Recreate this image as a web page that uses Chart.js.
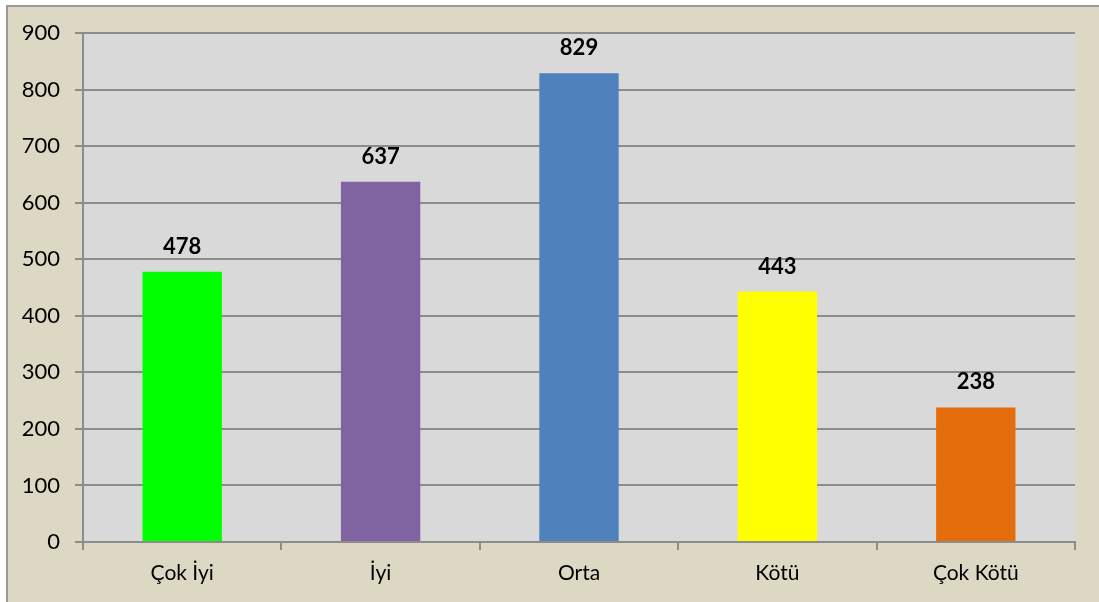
<!DOCTYPE html>
<html>
<head>
<meta charset="utf-8">
<script src="https://cdn.jsdelivr.net/npm/chart.js@4"></script>
<style>
  html, body { margin: 0; padding: 0; background: #fff; }
  #wrap { width: 1099px; height: 602px; }
</style>
</head>
<body>
<div id="wrap"><canvas id="barChart" width="1099" height="602"></canvas></div>
<script>
// data
var categories = ["Çok İyi", "İyi", "Orta", "Kötü", "Çok Kötü"];
var counts = [478, 637, 829, 443, 238];
var barColors = ["#00ff00", "#8064a2", "#4f81bd", "#ffff00", "#e46c0a"];
var yTicks = [0, 100, 200, 300, 400, 500, 600, 700, 800, 900];

var fontFamily = 'Lato, "Open Sans", sans-serif';

// beige frame + gray plot area
var frameBg = {
	id : 'frameBg',
	beforeDraw : function(chart) {
		var c = chart.ctx, a = chart.chartArea;
		c.save();
		c.fillStyle = '#ffffff';
		c.fillRect(0, 0, chart.width, chart.height);
		c.fillStyle = '#ddd8c3';
		c.fillRect(7, 6, chart.width - 7, chart.height - 6);
		c.strokeStyle = '#9a9a9a';
		c.lineWidth = 2;
		c.beginPath();
		c.moveTo(7, chart.height);
		c.lineTo(7, 6);
		c.lineTo(chart.width, 6);
		c.stroke();
		c.fillStyle = '#d9d9d9';
		c.fillRect(a.left, a.top, a.right - a.left, a.bottom - a.top);
		c.restore();
	}
};

// value labels above bars
var valueLabels = {
	id : 'valueLabels',
	afterDatasetsDraw : function(chart) {
		var c = chart.ctx;
		var meta = chart.getDatasetMeta(0);
		c.save();
		c.font = 'bold 22px ' + fontFamily;
		c.fillStyle = '#000';
		c.textAlign = 'center';
		c.textBaseline = 'middle';
		meta.data.forEach(function(bar, i) {
			c.fillText(counts[i], bar.x, bar.y - 25);
		});
		c.restore();
	}
};

var ctx = document.getElementById("barChart");
var myBarChart = new Chart(ctx, {
	type : 'bar',
	data : {
		labels : categories,
		datasets : [ {
			data : counts,
			backgroundColor : barColors,
			barPercentage : 0.4,
			categoryPercentage : 1.0
		} ]
	},
	options : {
		responsive : false,
		animation : false,
		layout : { padding : { top : 33, right : 24, left : 0, bottom : 0 } },
		plugins : { legend : { display : false }, tooltip : { enabled : false } },
		scales : {
			x : {
				grid : { drawOnChartArea : false, drawTicks : true, tickLength : 8, color : '#8c8c8c', lineWidth : 2 },
				border : { color : '#8c8c8c', width : 2 },
				ticks : { color : '#000', padding : 11, font : { family : fontFamily, size : 21 } },
				afterFit : function(scale) { scale.height = 60; }
			},
			y : {
				min : 0,
				max : 900,
				afterBuildTicks : function(scale) {
					scale.ticks = yTicks.map(function(v) { return { value : v }; });
				},
				grid : { color : '#8c8c8c', lineWidth : 2, tickLength : 8 },
				border : { color : '#8c8c8c', width : 2 },
				ticks : { color : '#000', padding : 15, font : { family : fontFamily, size : 22 } },
				afterFit : function(scale) { scale.width = 83; }
			}
		}
	},
	plugins : [ frameBg, valueLabels ]
});
</script>
</body>
</html>
